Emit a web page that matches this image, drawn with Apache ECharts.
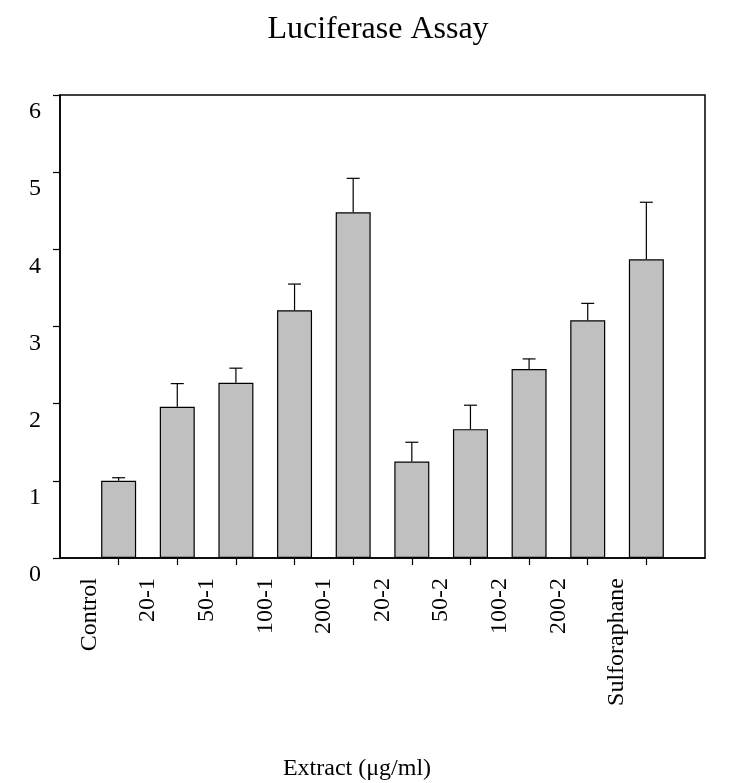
<!DOCTYPE html>
<html>
<head>
<meta charset="utf-8">
<script src="https://cdn.jsdelivr.net/npm/echarts@6/dist/echarts.min.js"></script>
<style>html,body{margin:0;padding:0;background:#fff;}#c{width:732px;height:783px;}</style>
</head>
<body>
<div id="c"></div>
<script>
var categories = ['Control','20-1','50-1','100-1','200-1','20-2','50-2','100-2','200-2','Sulforaphane'];
var means = [1.00, 1.96, 2.27, 3.21, 4.48, 1.25, 1.67, 2.45, 3.08, 3.87];
var errors = [0.04, 0.30, 0.19, 0.34, 0.44, 0.25, 0.31, 0.13, 0.22, 0.74];
var yTicks = [0, 1, 2, 3, 4, 5, 6];

var FONT = 'Liberation Serif';
// bar axis: 12 slots (empty at each end), points on boundaries
var barCats = [''].concat(categories).concat(['']);
var barData = [null].concat(means).concat([null]);
var errData = categories.map(function (c, i) { return [i + 1, means[i], means[i] + errors[i]]; });
var labelCats = categories.concat(['']);

var chart = echarts.init(document.getElementById('c'));
chart.setOption({
  backgroundColor: '#ffffff',
  animation: false,
  title: [
    { text: 'Luciferase Assay', left: 373, textAlign: 'center', top: 9,
      textStyle: { fontFamily: FONT, fontSize: 32, fontWeight: 'normal', color: '#000' } },
    { text: 'Extract (\u03bcg/ml)', left: 352, textAlign: 'center', top: 752,
      textStyle: { fontFamily: FONT, fontSize: 24, fontWeight: 'normal', color: '#000' } }
  ],
  grid: { left: 60, right: 27, top: 95, bottom: 225, show: true, borderColor: '#000', borderWidth: 1.5, backgroundColor: 'transparent' },
  xAxis: [
    { type: 'category', data: barCats, boundaryGap: false, position: 'bottom',
      axisLine: { show: true, lineStyle: { color: '#000', width: 1.5 } },
      axisTick: { show: true, length: 7, inside: false, lineStyle: { color: '#000', width: 1.2 },
        interval: function (idx) { return idx >= 1 && idx <= categories.length; } },
      axisLabel: { show: false }, splitLine: { show: false } },
    { type: 'category', data: labelCats, boundaryGap: true, position: 'bottom', offset: 0,
      axisLine: { show: false }, axisTick: { show: false }, splitLine: { show: false },
      axisLabel: { show: true, interval: 0, rotate: 90, margin: 20,
        fontFamily: FONT, fontSize: 24, color: '#000' } }
  ],
  yAxis: {
    type: 'value', min: 0, max: 6, interval: 1,
    axisLine: { show: true, lineStyle: { color: '#000', width: 1.5 } },
    axisTick: { show: true, length: 7, lineStyle: { color: '#000', width: 1.2 } },
    splitLine: { show: false },
    axisLabel: { show: true, margin: 19, fontFamily: FONT, fontSize: 24, color: '#000',
      verticalAlign: 'top', lineHeight: 34,
      formatter: function (v) { return yTicks.indexOf(v) >= 0 ? String(v) : ''; } }
  },
  series: [
    { type: 'bar', xAxisIndex: 0, data: barData, barWidth: 35,
      itemStyle: { color: '#c0c0c0', borderColor: '#000', borderWidth: 1.2 } },
    { type: 'custom', xAxisIndex: 0, data: errData, encode: { x: 0, y: [1, 2] }, z: 3,
      renderItem: function (params, api) {
        var x = api.value(0);
        var base = api.coord([x, api.value(1)]);
        var top = api.coord([x, api.value(2)]);
        var style = { stroke: '#000', lineWidth: 1.2 };
        return { type: 'group', children: [
          { type: 'line', shape: { x1: base[0], y1: base[1], x2: top[0], y2: top[1] }, style: style },
          { type: 'line', shape: { x1: top[0] - 6.5, y1: top[1], x2: top[0] + 6.5, y2: top[1] }, style: style }
        ] };
      } }
  ]
});
</script>
</body>
</html>
